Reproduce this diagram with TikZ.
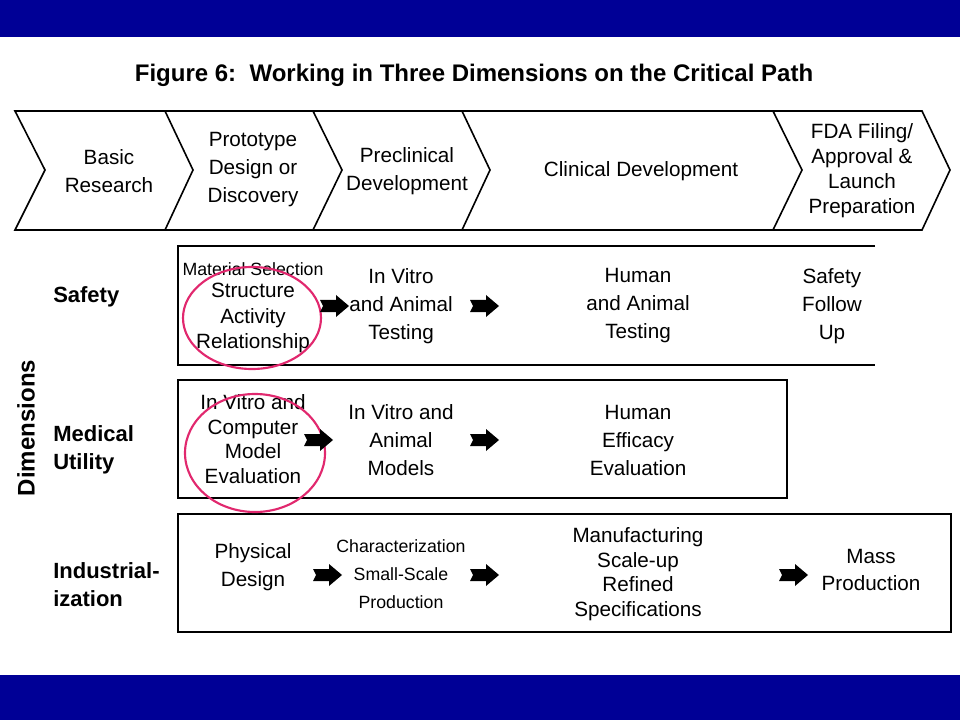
\documentclass[tikz,border=0pt]{standalone}
\usepackage{fontspec}
\setmainfont{Liberation Sans}
\begin{document}
\begin{tikzpicture}[x=0.75pt,y=-0.75pt,
  txt/.style={align=center,font=\fontsize{15.5}{21}\selectfont},
  lbl/.style={align=left,anchor=west,inner sep=0pt,font=\bfseries\fontsize{16.5}{21}\selectfont},
  chev/.style={draw,line width=1.2pt,line join=miter},
  ring/.style={draw={rgb,255:red,225;green,40;blue,110},line width=1.6pt},
  box/.style={draw,line width=0.9pt}]
\useasboundingbox (0,0) rectangle (960,720);
\fill[fill={rgb,255:red,0;green,0;blue,150}] (0,0) rectangle (960,37);
\fill[fill={rgb,255:red,0;green,0;blue,150}] (0,675) rectangle (960,720);
\node[font=\bfseries\fontsize{18}{20}\selectfont] (title) at (474,75) {Figure 6:\ \ Working in Three Dimensions on the Critical Path};
% chevrons
\draw[chev] (15,111) -- (165,111) -- (193,170) -- (165,230) -- (15,230) -- (45,170) -- cycle;
\draw[chev] (165,111) -- (313,111) -- (342,170) -- (313,230) -- (165,230);
\draw[chev] (313,111) -- (462,111) -- (490,170) -- (462,230) -- (313,230);
\draw[chev] (462,111) -- (773,111) -- (802,170) -- (773,230) -- (462,230);
\draw[chev] (773,111) -- (922,111) -- (950,170) -- (922,230) -- (773,230);
\node[txt] (c1) at (109,171) {Basic\\Research};
\node[txt] (c2) at (253,170) {Prototype\\Design or\\Discovery};
\node[txt] (c3) at (407,171) {Preclinical\\Development};
\node[txt] (c4) at (641,171) {Clinical Development};
\node[txt,font=\fontsize{15.5}{18.7}\selectfont] (c5) at (862,171) {FDA Filing/\\Approval \&\\Launch\\Preparation};
% boxes
\draw[box] (875,246) -- (178,246) -- (178,365) -- (875,365);
\draw[box] (178,380) rectangle (787,498);
\draw[box] (178,514) rectangle (951,632);
% labels
\node[lbl] (s) at (53,297) {Safety};
\node[lbl] (m) at (53,450) {Medical\\Utility};
\node[lbl] (i) at (53,585) {Industrial-\\ization};
\node[rotate=90,font=\bfseries\fontsize{18}{20}\selectfont] (dim) at (26,428) {Dimensions};
% safety
\node[txt,font=\fontsize{13.3}{19}\selectfont] (ms) at (253,269) {Material Selection};
\node[txt,font=\fontsize{15.5}{19}\selectfont] (sar) at (253,318) {Structure\\Activity\\Relationship};
\node[txt] (ivat) at (401,306) {In Vitro\\and Animal\\Testing};
\node[txt] (hat) at (638,306) {Human\\and Animal\\Testing};
\node[txt] (sfu) at (832,306) {Safety\\Follow\\Up};
% medical
\node[txt,font=\fontsize{15.5}{18.5}\selectfont] (icm) at (253,439) {In Vitro and\\Computer\\Model\\Evaluation};
\node[txt] (iam) at (401,440) {In Vitro and\\Animal\\Models};
\node[txt] (hee) at (638,440) {Human\\Efficacy\\Evaluation};
% industrial
\node[txt] (pd) at (253,567) {Physical\\Design};
\node[txt,font=\fontsize{13.3}{21}\selectfont] (ch) at (401,574) {Characterization\\Small-Scale\\Production};
\node[txt,font=\fontsize{15.5}{18.5}\selectfont] (mf) at (638,574) {Manufacturing\\Scale-up\\Refined\\Specifications};
\node[txt,font=\fontsize{15.5}{20}\selectfont] (mp) at (871,570) {Mass\\Production};
% rings
\draw[ring] (252,318) ellipse (69 and 51);
\draw[ring] (255,453) ellipse (70 and 59);
% block arrows
\foreach \n/\x/\y in {a1/334/306,a2/484/306,a3/318/440,a4/484/440,a5/327/575,a6/484/575,a7/793/575}{
  \coordinate (\n) at (\x,\y);
  \fill (\n) ++(-14,-6) -- ++(16,0) -- ++(0,-5) -- ++(13,11) -- ++(-13,11) -- ++(0,-5) -- ++(-16,0) -- ++(3,-6) -- cycle;
}
\end{tikzpicture}
\end{document}
